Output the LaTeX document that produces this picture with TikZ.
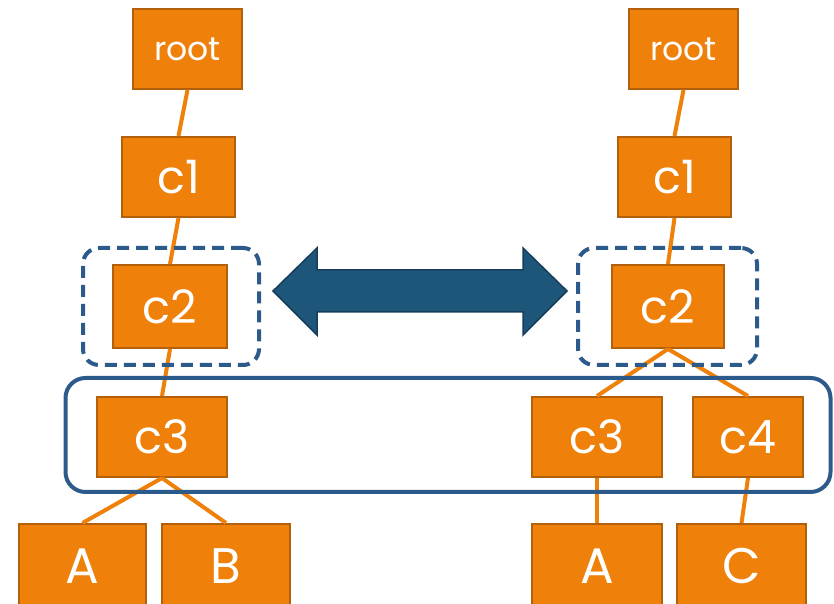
\documentclass[tikz,border=0pt]{standalone}
\usepackage{fontspec}
\setmainfont{Poppins}
\usetikzlibrary{positioning}

\definecolor{treeorange}{RGB}{239,128,10}
\definecolor{treeedge}{RGB}{178,96,12}
\definecolor{selblue}{RGB}{44,90,138}
\definecolor{arrowblue}{RGB}{30,86,122}
\definecolor{arrowdark}{RGB}{22,62,92}

\tikzset{
  tnode/.style={draw=treeedge, line width=2pt, fill=treeorange, text=white,
    inner sep=0pt, minimum height=80pt,
    font=\fontsize{46}{50}\selectfont},
  small/.style={font=\fontsize{33}{36}\selectfont},
  leaf/.style={minimum height=84pt, font=\fontsize{50}{54}\selectfont},
  tedge/.style={draw=treeorange, line width=4pt},
  selbox/.style={draw=selblue, line width=4pt, rounded corners=16pt,
    dash pattern=on 12pt off 7pt},
  groupbox/.style={draw=selblue, line width=4pt, rounded corners=20pt}
}

\begin{document}
\begin{tikzpicture}[x=1pt,y=1pt]
\useasboundingbox (0,0) rectangle (834,604);

% left tree
\node[tnode,small,minimum width=109pt] (rootL) at (187.5,555) {root};
\node[tnode,minimum width=113pt] (c1L) at (178.5,427) {c1};
\node[tnode,minimum width=114pt,minimum height=83pt] (c2L) at (170,297.5) {c2};
\node[tnode,minimum width=130pt] (c3L) at (162,167) {c3};
\node[tnode,leaf,minimum width=127pt] (aL) at (82.5,38) {A};
\node[tnode,leaf,minimum width=128pt] (bL) at (226,38) {B};

% right tree
\node[tnode,small,minimum width=109pt] (rootR) at (683.5,555) {root};
\node[tnode,minimum width=113pt] (c1R) at (674.5,427) {c1};
\node[tnode,minimum width=112pt,minimum height=83pt] (c2R) at (668,297.5) {c2};
\node[tnode,minimum width=130pt] (c3R) at (597,167) {c3};
\node[tnode,minimum width=110pt] (c4R) at (748,167) {c4};
\node[tnode,leaf,minimum width=130pt] (aR) at (597,38) {A};
\node[tnode,leaf,minimum width=129pt] (cR) at (741.5,38) {C};

\draw[tedge] (rootL.south) -- (c1L.north);
\draw[tedge] (c1L.south) -- (c2L.north);
\draw[tedge] (c2L.south) -- (c3L.north);
\draw[tedge] (c3L.south) -- (aL.north);
\draw[tedge] (c3L.south) -- (bL.north);

\draw[tedge] (rootR.south) -- (c1R.north);
\draw[tedge] (c1R.south) -- (c2R.north);
\draw[tedge] (c2R.south) -- (c3R.north);
\draw[tedge] (c2R.south) -- (c4R.north);
\draw[tedge] (c3R.south) -- (aR.north);
\draw[tedge] (c4R.south) -- (cR.north);

% selections
\node[selbox,minimum width=176pt,minimum height=117pt] (selL) at (171,297.5) {};
\node[selbox,minimum width=179pt,minimum height=117pt] (selR) at (667.5,297.5) {};
\node[groupbox,minimum width=765pt,minimum height=114pt] (level) at (448,169) {};

% swap arrow
\draw[fill=arrowblue,draw=arrowdark,line width=1.5pt,line join=miter]
  (273,313) -- (317,356) -- (317,334) -- (523,334) -- (523,356) -- (567,313)
  -- (523,269) -- (523,292) -- (317,292) -- (317,269) -- cycle;

\end{tikzpicture}
\end{document}
